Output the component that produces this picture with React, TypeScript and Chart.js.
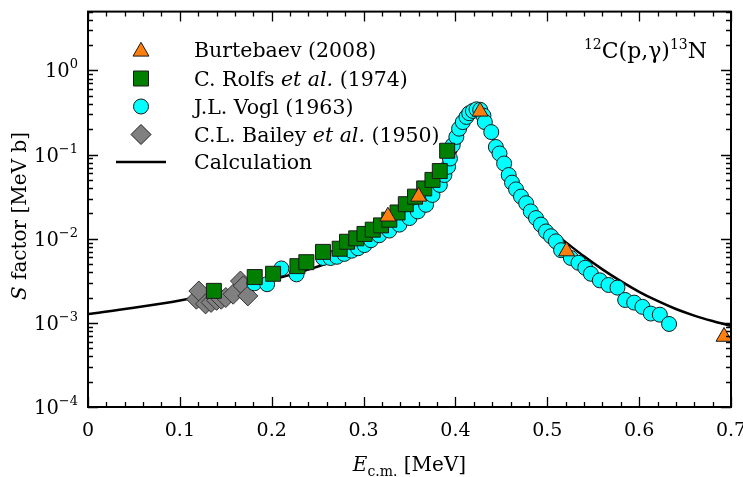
import React, { useEffect, useRef } from 'react';
import { Chart, registerables } from 'chart.js';

Chart.register(...registerables);

const W = 743;
const H = 477;
const FONT = "'DejaVu Serif', 'Liberation Serif', serif";

// ---------- data ----------
const burtebaevE = [0.3265, 0.36, 0.4268, 0.521, 0.6924];
const burtebaevS = [0.0184, 0.0317, 0.325, 0.0071, 0.000685];

const rolfsE = [0.137, 0.1815, 0.2015, 0.228, 0.2377, 0.2558, 0.274, 0.282, 0.292, 0.301, 0.31, 0.319, 0.328, 0.337, 0.346, 0.356, 0.366, 0.375, 0.383, 0.391];
const rolfsS = [0.0024, 0.0035, 0.00383, 0.00472, 0.00526, 0.00697, 0.0076, 0.0092, 0.0101, 0.0114, 0.0128, 0.0144, 0.0168, 0.0205, 0.0257, 0.0316, 0.0396, 0.05, 0.0637, 0.111];

const voglE = [0.181, 0.195, 0.2105, 0.227, 0.256, 0.264, 0.271, 0.279, 0.287, 0.294, 0.301, 0.308, 0.317, 0.328, 0.339, 0.35, 0.359, 0.368, 0.375, 0.383, 0.388, 0.392, 0.394, 0.397, 0.401, 0.404, 0.408, 0.412, 0.415, 0.419, 0.423, 0.427, 0.4305, 0.432, 0.439, 0.444, 0.448, 0.453, 0.458, 0.4616, 0.466, 0.4714, 0.477, 0.482, 0.4877, 0.493, 0.4986, 0.504, 0.5094, 0.515, 0.5257, 0.534, 0.5413, 0.5475, 0.5572, 0.5667, 0.5764, 0.5848, 0.5946, 0.6036, 0.6127, 0.6225, 0.6326];
const voglS = [0.00295, 0.00288, 0.00443, 0.00377, 0.0059, 0.0059, 0.0061, 0.0066, 0.0072, 0.0077, 0.0084, 0.0096, 0.011, 0.0125, 0.0147, 0.0176, 0.0211, 0.0253, 0.0331, 0.0435, 0.0571, 0.0716, 0.0897, 0.129, 0.162, 0.203, 0.243, 0.28, 0.31, 0.33, 0.345, 0.34, 0.29, 0.243, 0.185, 0.123, 0.103, 0.0783, 0.0571, 0.0464, 0.0386, 0.0317, 0.0264, 0.0211, 0.0176, 0.0147, 0.0122, 0.0107, 0.0093, 0.0073, 0.0059, 0.00517, 0.00451, 0.00383, 0.0032, 0.00282, 0.00262, 0.00187, 0.00174, 0.00155, 0.00129, 0.00125, 0.00097];

const baileyE = [0.118, 0.1207, 0.128, 0.134, 0.14, 0.145, 0.15, 0.158, 0.166, 0.169, 0.174];
const baileyS = [0.00191, 0.00239, 0.00168, 0.00175, 0.00185, 0.00191, 0.002, 0.00219, 0.00314, 0.00275, 0.00209];

const calcE = [0, 0.05, 0.1, 0.15, 0.2, 0.245, 0.263, 0.3, 0.33, 0.35, 0.37, 0.38, 0.39, 0.4, 0.41, 0.415, 0.42, 0.425, 0.43, 0.435, 0.44, 0.45, 0.46, 0.47, 0.48, 0.49, 0.5, 0.52, 0.54, 0.56, 0.58, 0.6, 0.62, 0.64, 0.66, 0.68, 0.7];
const calcS = [0.00127, 0.00151, 0.00184, 0.00237, 0.00324, 0.00447, 0.00525, 0.0078, 0.012, 0.0186, 0.03, 0.041, 0.062, 0.105, 0.195, 0.26, 0.32, 0.347, 0.31, 0.234, 0.166, 0.087, 0.051, 0.033, 0.0232, 0.0174, 0.0135, 0.0091, 0.00617, 0.00432, 0.00313, 0.00234, 0.00182, 0.00146, 0.00122, 0.00105, 0.00092];

const xTickValues = [0, 0.1, 0.2, 0.3, 0.4, 0.5, 0.6, 0.7];
const xTickLabels = ['0', '0.1', '0.2', '0.3', '0.4', '0.5', '0.6', '0.7'];
const yTickExponents = [-4, -3, -2, -1, 0];
const yTickExpLabels = ['\u22124', '\u22123', '\u22122', '\u22121', '0'];

const legendLabels = [
  [{ t: 'Burtebaev (2008)' }],
  [{ t: 'C. Rolfs ' }, { t: 'et al.', i: true }, { t: ' (1974)' }],
  [{ t: 'J.L. Vogl (1963)' }],
  [{ t: 'C.L. Bailey ' }, { t: 'et al.', i: true }, { t: ' (1950)' }],
  [{ t: 'Calculation' }],
];

const X_MIN = 0, X_MAX = 0.7, Y_MIN = 1e-4, Y_MAX = 5;

const COLORS = {
  burt: '#ff7f0e',
  rolfs: '#007f00',
  vogl: '#00ffff',
  bailey: '#808080',
};

const zip = (a: number[], b: number[]) => a.map((v, i) => ({ x: v, y: b[i] }));

type Run = { t: string; i?: boolean; size?: number; dy?: number };

function drawRuns(ctx: CanvasRenderingContext2D, runs: Run[], x: number, y: number, size: number, align: 'left' | 'right' | 'center') {
  const fontOf = (r: Run) => `${r.i ? 'italic ' : ''}${r.size ?? size}px ${FONT}`;
  let total = 0;
  for (const r of runs) { ctx.font = fontOf(r); total += ctx.measureText(r.t).width; }
  let cx = align === 'left' ? x : align === 'right' ? x - total : x - total / 2;
  ctx.textAlign = 'left';
  for (const r of runs) {
    ctx.font = fontOf(r);
    ctx.fillText(r.t, cx, y + (r.dy ?? 0));
    cx += ctx.measureText(r.t).width;
  }
}

function marker(ctx: CanvasRenderingContext2D, kind: string, x: number, y: number, fill: string) {
  ctx.save();
  ctx.fillStyle = fill;
  ctx.strokeStyle = '#1a1a1a';
  ctx.lineWidth = 1;
  ctx.beginPath();
  if (kind === 'triangle') {
    const r = 9.2;
    for (let k = 0; k < 3; k++) {
      const a = -Math.PI / 2 + k * (2 * Math.PI / 3);
      const px = x + r * Math.cos(a), py = y + r * Math.sin(a) + 1.5;
      if (k === 0) ctx.moveTo(px, py); else ctx.lineTo(px, py);
    }
    ctx.closePath();
  } else if (kind === 'rect') {
    const s = 7.5;
    ctx.rect(x - s, y - s, 2 * s, 2 * s);
  } else if (kind === 'circle') {
    ctx.arc(x, y, 7.5, 0, Math.PI * 2);
  } else if (kind === 'diamond') {
    const r = 10;
    ctx.moveTo(x, y - r); ctx.lineTo(x + r, y); ctx.lineTo(x, y + r); ctx.lineTo(x - r, y); ctx.closePath();
  }
  ctx.fill();
  ctx.stroke();
  ctx.restore();
}

const decorPlugin = {
  id: 'decor',
  beforeDraw(chart: any) {
    const ctx = chart.ctx;
    ctx.save();
    ctx.fillStyle = '#fff';
    ctx.fillRect(0, 0, chart.width, chart.height);
    ctx.restore();
  },
  afterDraw(chart: any) {
    const ctx: CanvasRenderingContext2D = chart.ctx;
    const a = chart.chartArea;
    const xs = chart.scales.x;
    const ys = chart.scales.y;
    ctx.save();
    ctx.strokeStyle = '#000';
    ctx.fillStyle = '#000';

    // ticks on x (bottom + top), pointing inward
    ctx.lineWidth = 1.3;
    for (let k = 0; k <= 35; k++) {
      const v = k * 0.02;
      const px = Math.round(xs.getPixelForValue(v)) + 0.5;
      const len = k % 5 === 0 ? 10 : 5;
      ctx.beginPath();
      ctx.moveTo(px, a.bottom); ctx.lineTo(px, a.bottom - len);
      ctx.moveTo(px, a.top); ctx.lineTo(px, a.top + len);
      ctx.stroke();
    }
    // ticks on y (left + right)
    for (const e of yTickExponents) {
      for (let m = 1; m <= 9; m++) {
        const v = m * Math.pow(10, e);
        if (v > Y_MAX * 1.0001) continue;
        const py = Math.round(ys.getPixelForValue(v)) + 0.5;
        const len = m === 1 ? 10 : 5;
        ctx.beginPath();
        ctx.moveTo(a.left, py); ctx.lineTo(a.left + len, py);
        ctx.moveTo(a.right, py); ctx.lineTo(a.right - len, py);
        ctx.stroke();
      }
    }

    // frame
    ctx.lineWidth = 2;
    ctx.strokeRect(a.left, a.top, a.right - a.left, a.bottom - a.top);

    // x tick labels
    ctx.font = `19px ${FONT}`;
    ctx.textAlign = 'center';
    ctx.textBaseline = 'alphabetic';
    xTickValues.forEach((v, i) => {
      ctx.fillText(xTickLabels[i], xs.getPixelForValue(v), a.bottom + 29);
    });

    // y tick labels 10^n
    yTickExponents.forEach((e, i) => {
      const py = ys.getPixelForValue(Math.pow(10, e));
      drawRuns(ctx, [{ t: '10' }, { t: yTickExpLabels[i], size: 13, dy: -9 }], a.left - 10, py + 7, 19.5, 'right');
    });

    // axis titles
    drawRuns(ctx, [{ t: 'E', i: true }, { t: 'c.m.', size: 14, dy: 5 }, { t: ' [MeV]' }], (a.left + a.right) / 2, 471, 20, 'center');
    ctx.save();
    ctx.translate(26, 216);
    ctx.rotate(-Math.PI / 2);
    drawRuns(ctx, [{ t: 'S', i: true }, { t: ' factor [MeV b]' }], 0, 0, 20, 'center');
    ctx.restore();

    // legend
    const rowsY = [50, 78.5, 106.5, 134.5, 162];
    const kinds = ['triangle', 'rect', 'circle', 'diamond'];
    const fills = [COLORS.burt, COLORS.rolfs, COLORS.vogl, COLORS.bailey];
    rowsY.forEach((ry, i) => {
      if (i < 4) marker(ctx, kinds[i], 141, ry, fills[i]);
      else {
        ctx.lineWidth = 2.5;
        ctx.strokeStyle = '#000';
        ctx.beginPath(); ctx.moveTo(116, ry); ctx.lineTo(166, ry); ctx.stroke();
      }
      ctx.fillStyle = '#000';
      drawRuns(ctx, legendLabels[i] as Run[], 194, ry + 7, 20.5, 'left');
    });

    // reaction annotation
    drawRuns(ctx, [{ t: '12', size: 14, dy: -9 }, { t: 'C(p,\u03b3)' }, { t: '13', size: 14, dy: -9 }, { t: 'N' }], 707, 58, 22, 'right');

    ctx.restore();
  },
};

export default function App() {
  const ref = useRef<HTMLCanvasElement | null>(null);
  useEffect(() => {
    if (!ref.current) return;
    const chart = new Chart(ref.current, {
      type: 'scatter',
      data: {
        datasets: [
          {
            label: 'Burtebaev (2008)', data: zip(burtebaevE, burtebaevS), order: 0,
            pointStyle: 'triangle', pointRadius: 9.2, backgroundColor: COLORS.burt, borderColor: '#1a1a1a', borderWidth: 1,
          },
          {
            label: 'C. Rolfs et al. (1974)', data: zip(rolfsE, rolfsS), order: 1,
            pointStyle: 'rect', pointRadius: 10.6, backgroundColor: COLORS.rolfs, borderColor: '#1a1a1a', borderWidth: 1,
          },
          {
            label: 'J.L. Vogl (1963)', data: zip(voglE, voglS), order: 2,
            pointStyle: 'circle', pointRadius: 7.5, backgroundColor: COLORS.vogl, borderColor: '#1a1a1a', borderWidth: 1,
          },
          {
            label: 'C.L. Bailey et al. (1950)', data: zip(baileyE, baileyS), order: 3,
            pointStyle: 'rectRot', pointRadius: 10, backgroundColor: COLORS.bailey, borderColor: '#333', borderWidth: 1,
          },
          {
            label: 'Calculation', data: zip(calcE, calcS), order: 4,
            showLine: true, pointRadius: 0, borderColor: '#000', borderWidth: 2.5,
            cubicInterpolationMode: 'monotone', fill: false,
          } as any,
        ],
      },
      options: {
        responsive: false,
        animation: false,
        events: [],
        layout: { padding: { left: 88, right: 12, top: 9, bottom: 70 } },
        plugins: { legend: { display: false }, tooltip: { enabled: false }, title: { display: false } },
        scales: {
          x: { type: 'linear', min: X_MIN, max: X_MAX, display: false },
          y: { type: 'logarithmic', min: Y_MIN, max: Y_MAX, display: false },
        },
      },
      plugins: [decorPlugin],
    });
    return () => chart.destroy();
  }, []);
  return (
    <div style={{ position: 'fixed', left: 0, top: 0, width: W, height: H, background: '#fff' }}>
      <canvas ref={ref} width={W} height={H} style={{ display: 'block', width: W, height: H }} />
    </div>
  );
}
